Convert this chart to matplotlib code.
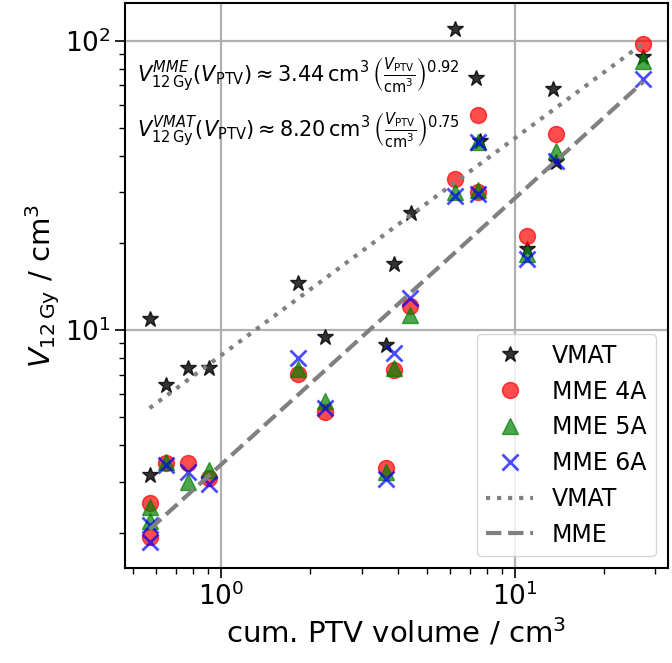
import matplotlib
matplotlib.use('Agg')
import matplotlib.pyplot as plt
import numpy as np

# VMAT 12 Gy volumes (some hidden behind the MME markers)
vmat_x = [0.57, 0.57, 0.65, 0.77, 0.91, 1.83, 2.26, 3.63, 3.88, 4.42, 6.25, 7.35, 7.6, 11.0, 13.5, 13.8, 27.3]
vmat_y = [10.9, 3.15, 6.45, 7.41, 7.38, 14.6, 9.46, 8.88, 16.9, 25.4, 110.0, 74.3, 45.0, 19.0, 68.0, 38.0, 87.5]

# MME plans, 4/5/6 arcs
mme_x = [0.57, 0.57, 0.65, 0.77, 0.91, 1.83, 2.26, 3.63, 3.88, 4.40, 6.25, 7.45, 7.45, 11.0, 13.8, 27.3]
mme_4a = [2.53, 1.93, 3.47, 3.47, 3.08, 7.03, 5.21, 3.34, 7.31, 12.1, 33.2, 55.3, 30.0, 21.1, 47.5, 97.4]
mme_5a = [2.45, 2.20, 3.50, 3.00, 3.30, 7.37, 5.68, 3.24, 7.40, 11.3, 29.9, 44.5, 30.5, 18.3, 41.5, 85.3]
mme_6a = [2.13, 1.85, 3.43, 3.23, 2.94, 8.02, 5.38, 3.07, 8.35, 12.9, 29.0, 44.5, 29.5, 17.6, 38.5, 73.6]

# power law fits V = a * V_ptv^b
fit_vmat = (8.20, 0.75)
fit_mme = (3.44, 0.92)

fig = plt.figure(figsize=(6.72, 6.63), dpi=100)
ax = fig.add_axes([0.186, 0.1433, 0.808, 0.8522])

ax.plot(vmat_x, vmat_y, '*', color='black', ms=12, alpha=0.8, label='VMAT')
ax.plot(mme_x, mme_4a, 'o', color='red', ms=11.5, alpha=0.7, label='MME 4A')
ax.plot(mme_x, mme_5a, '^', color='green', ms=11.5, alpha=0.7, label='MME 5A')
ax.plot(mme_x, mme_6a, 'x', color='blue', ms=11, mew=2, alpha=0.7, label='MME 6A')

xx = np.array([min(mme_x), max(mme_x)])
ax.plot(xx, fit_vmat[0] * xx ** fit_vmat[1], ':', color='grey', lw=3, label='VMAT')
ax.plot(xx, fit_mme[0] * xx ** fit_mme[1], '--', color='grey', lw=3, label='MME')

ax.set_xscale('log')
ax.set_yscale('log')
ax.grid(True, which='major', color='#b0b0b0', lw=1.6)
ax.set_axisbelow(True)

ax.text(0.022, 0.873,
        r'$V^{MME}_{12\,\mathrm{Gy}}(V_\mathrm{PTV}) \approx 3.44\,\mathrm{cm}^3\,\left(\frac{V_\mathrm{PTV}}{\mathrm{cm}^3}\right)^{0.92}$',
        transform=ax.transAxes, fontsize=15, va='center', ha='left')
ax.text(0.022, 0.776,
        r'$V^{VMAT}_{12\,\mathrm{Gy}}(V_\mathrm{PTV}) \approx 8.20\,\mathrm{cm}^3\,\left(\frac{V_\mathrm{PTV}}{\mathrm{cm}^3}\right)^{0.75}$',
        transform=ax.transAxes, fontsize=15, va='center', ha='left')

ax.set_xlabel(r'cum. PTV volume / cm$^3$', fontsize=21)
ax.set_ylabel(r'$V_{12\,\mathrm{Gy}}$ / cm$^3$', fontsize=21, labelpad=2)
ax.tick_params(which='major', labelsize=19, length=7, width=1.2)
ax.tick_params(which='minor', length=4, width=1.0)
for s in ax.spines.values():
    s.set_linewidth(1.5)

ax.legend(loc='lower right', fontsize=17, framealpha=0.8)

fig.savefig('out.png', dpi=100)
